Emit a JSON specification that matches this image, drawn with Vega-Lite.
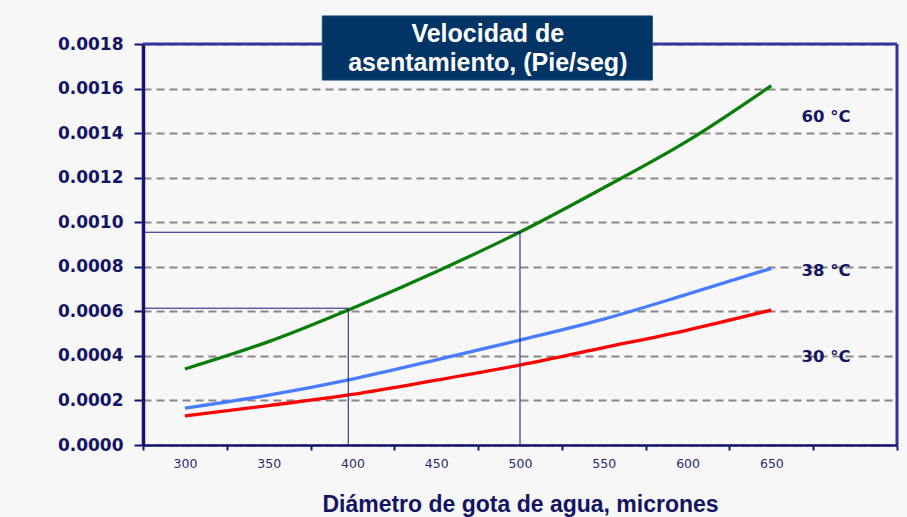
{
  "$schema": "https://vega.github.io/schema/vega-lite/v6.json",
  "width": 754,
  "height": 401,
  "autosize": "none",
  "padding": {"left": 143, "top": 44, "right": 10, "bottom": 72},
  "background": "#f7f7f7",
  "config": {
    "view": {"stroke": null, "fill": "#f7f7f7"}
  },
  "datasets": {
    "curves": [
      {"d": 300, "v": 0.000341, "serie": "60 °C"},
      {"d": 350, "v": 0.000464, "serie": "60 °C"},
      {"d": 400, "v": 0.000614, "serie": "60 °C"},
      {"d": 450, "v": 0.000778, "serie": "60 °C"},
      {"d": 500, "v": 0.000956, "serie": "60 °C"},
      {"d": 550, "v": 0.001155, "serie": "60 °C"},
      {"d": 600, "v": 0.001365, "serie": "60 °C"},
      {"d": 650, "v": 0.001613, "serie": "60 °C"},
      {"d": 300, "v": 0.000165, "serie": "38 °C"},
      {"d": 350, "v": 0.000224, "serie": "38 °C"},
      {"d": 400, "v": 0.000296, "serie": "38 °C"},
      {"d": 450, "v": 0.000382, "serie": "38 °C"},
      {"d": 500, "v": 0.000471, "serie": "38 °C"},
      {"d": 550, "v": 0.000565, "serie": "38 °C"},
      {"d": 600, "v": 0.000677, "serie": "38 °C"},
      {"d": 650, "v": 0.000793, "serie": "38 °C"},
      {"d": 300, "v": 0.000130, "serie": "30 °C"},
      {"d": 350, "v": 0.000177, "serie": "30 °C"},
      {"d": 400, "v": 0.000227, "serie": "30 °C"},
      {"d": 450, "v": 0.000291, "serie": "30 °C"},
      {"d": 500, "v": 0.000359, "serie": "30 °C"},
      {"d": 550, "v": 0.000437, "serie": "30 °C"},
      {"d": 600, "v": 0.000516, "serie": "30 °C"},
      {"d": 650, "v": 0.000606, "serie": "30 °C"}
    ],
    "guides": [
      {"d1": 275, "d2": 397.5, "v1": 0.000614, "v2": 0.000614},
      {"d1": 397.5, "d2": 397.5, "v1": 0, "v2": 0.000614},
      {"d1": 275, "d2": 500, "v1": 0.000955, "v2": 0.000955},
      {"d1": 500, "d2": 500, "v1": 0, "v2": 0.000955}
    ],
    "labels": [
      {"serie": "60 °C", "d": 668, "v": 0.001472},
      {"serie": "38 °C", "d": 668, "v": 0.000781},
      {"serie": "30 °C", "d": 668, "v": 0.000395}
    ],
    "single": [{}]
  },
  "layer": [
    {
      "data": {"name": "curves"},
      "mark": {"type": "line", "strokeWidth": 3.3, "interpolate": "monotone"},
      "encoding": {
        "x": {
          "field": "d",
          "type": "quantitative",
          "scale": {"domain": [275, 725], "nice": false, "zero": false},
          "axis": {
            "values": [275, 325, 375, 425, 475, 525, 575, 625, 675, 725],
            "labelExpr": "datum.value < 675 ? datum.value + 25 : ''",
            "labelOffset": 41.9,
            "labelFlush": false,
            "labelOverlap": false,
            "grid": false,
            "zindex": 1,
            "domainColor": "#14146e",
            "domainWidth": 2.5,
            "tickColor": "#14146e",
            "tickSize": 5,
            "tickWidth": 2,
            "labelFont": "DejaVu Sans",
            "labelFontSize": 12.5,
            "labelColor": "#2b2b70",
            "labelPadding": 7,
            "title": "Diámetro de gota de agua, micrones",
            "titleFont": "Liberation Sans",
            "titleFontSize": 23,
            "titleFontWeight": "bold",
            "titleColor": "#141464",
            "titlePadding": 24
          }
        },
        "y": {
          "field": "v",
          "type": "quantitative",
          "scale": {"domain": [0, 0.0018], "nice": false},
          "axis": {
            "values": [0, 0.0002, 0.0004, 0.0006, 0.0008, 0.001, 0.0012, 0.0014, 0.0016, 0.0018],
            "format": ".4f",
            "zindex": 0,
            "labelFont": "DejaVu Sans",
            "labelFontWeight": "bold",
            "labelFontSize": 17,
            "labelColor": "#141464",
            "labelPadding": 11,
            "domainColor": "#14146e",
            "domainWidth": 3.5,
            "tickColor": "#14146e",
            "tickSize": 9,
            "tickWidth": 2,
            "grid": true,
            "gridColor": "#888888",
            "gridDash": [8, 5],
            "gridWidth": 2,
            "title": null
          }
        },
        "color": {
          "field": "serie",
          "type": "nominal",
          "scale": {"domain": ["60 °C", "38 °C", "30 °C"], "range": ["#0b7d0b", "#4a7cff", "#ff0000"]},
          "legend": null
        }
      }
    },
    {
      "data": {"name": "single"},
      "mark": {"type": "rule", "color": "#3434a0", "strokeWidth": 3},
      "encoding": {"y": {"datum": 0.0018}}
    },
    {
      "data": {"name": "single"},
      "mark": {"type": "rule", "color": "#3434a0", "strokeWidth": 3},
      "encoding": {"x": {"datum": 725}}
    },
    {
      "data": {"name": "guides"},
      "mark": {"type": "rule", "color": "#14147a", "strokeWidth": 1},
      "encoding": {
        "x": {"field": "d1", "type": "quantitative"},
        "x2": {"field": "d2"},
        "y": {"field": "v1", "type": "quantitative"},
        "y2": {"field": "v2"}
      }
    },
    {
      "data": {"name": "labels"},
      "mark": {"type": "text", "align": "left", "baseline": "middle", "font": "DejaVu Sans", "fontWeight": "bold", "fontSize": 16.5, "color": "#141464"},
      "encoding": {
        "x": {"field": "d", "type": "quantitative"},
        "y": {"field": "v", "type": "quantitative"},
        "text": {"field": "serie"}
      }
    },
    {
      "data": {"name": "single"},
      "mark": {"type": "rect", "fill": "#023466", "stroke": "#1f4d80", "strokeWidth": 1},
      "encoding": {
        "x": {"datum": 382},
        "x2": {"datum": 579},
        "y": {"datum": 0.001926},
        "y2": {"datum": 0.001638}
      }
    },
    {
      "data": {"name": "single"},
      "mark": {"type": "text", "align": "center", "baseline": "middle", "font": "Liberation Sans", "fontWeight": "bold", "fontSize": 25, "lineHeight": 29, "color": "#ffffff"},
      "encoding": {
        "x": {"datum": 480.8},
        "y": {"datum": 0.001845},
        "text": {"value": ["Velocidad de", "asentamiento, (Pie/seg)"]}
      }
    }
  ]
}
